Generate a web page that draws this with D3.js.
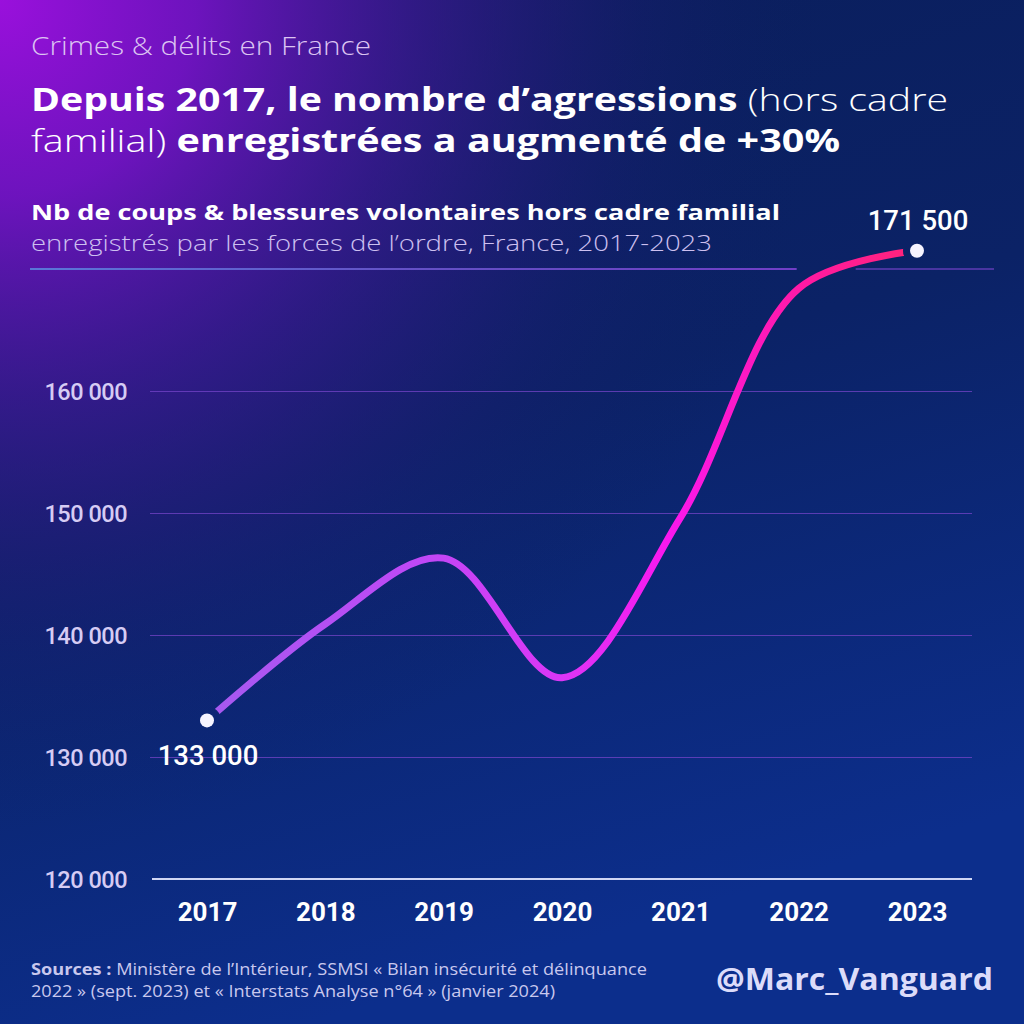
<!DOCTYPE html>
<html><head><meta charset="utf-8">
<script src="https://cdn.jsdelivr.net/npm/d3@7"></script>
<style>html,body{margin:0;padding:0;background:#0a1f5e;}svg{display:block;}</style>
</head><body>
<script>
const years = ["2017","2018","2019","2020","2021","2022","2023"];
const values = [133000, 140900, 146300, 136500, 149600, 168400, 171500];
const gridTicks = [130000, 140000, 150000, 160000];
const labelTicks = [120000, 130000, 140000, 150000, 160000];
const topTick = 170000;

const W = 1024, H = 1024;
const svg = d3.select("body").append("svg").attr("width", W).attr("height", H);
const defs = svg.append("defs");

// background
const bgLin = defs.append("linearGradient").attr("id","bgLin").attr("x1",0).attr("y1",0).attr("x2",0.3).attr("y2",1);
bgLin.append("stop").attr("offset",0).attr("stop-color","#0a1d5a");
bgLin.append("stop").attr("offset",0.5).attr("stop-color","#0b2266");
bgLin.append("stop").attr("offset",1).attr("stop-color","#0c2e8c");
const bgRad = defs.append("radialGradient").attr("id","bgRad").attr("gradientUnits","userSpaceOnUse")
  .attr("cx",0).attr("cy",0).attr("r",980);
bgRad.append("stop").attr("offset",0).attr("stop-color","#9a10dc").attr("stop-opacity",1);
bgRad.append("stop").attr("offset",0.2).attr("stop-color","#7812c8").attr("stop-opacity",0.9);
bgRad.append("stop").attr("offset",0.42).attr("stop-color","#4a16a0").attr("stop-opacity",0.6);
bgRad.append("stop").attr("offset",0.65).attr("stop-color","#2a1880").attr("stop-opacity",0.2);
bgRad.append("stop").attr("offset",0.85).attr("stop-color","#0a1d5a").attr("stop-opacity",0);
svg.append("rect").attr("width",W).attr("height",H).attr("fill","url(#bgLin)");
svg.append("rect").attr("width",W).attr("height",H).attr("fill","url(#bgRad)");

// scales
const x = d3.scalePoint().domain(years).range([207, 917]);
const y = d3.scaleLinear().domain([120000, 170000]).range([879, 269]);
const locale = d3.formatLocale({decimal:",", thousands:" ", grouping:[3], currency:["","€"]});
const fmt = locale.format(",d");

// header texts (wide geometric look: stretched to the reference widths)
const sans = "'Open Sans', Lato, sans-serif";
function wide(sel, len){ return sel.attr("textLength",len).attr("lengthAdjust","spacingAndGlyphs"); }
wide(svg.append("text").attr("x",31).attr("y",55).attr("font-family",sans).attr("font-weight",300)
  .attr("font-size",25).attr("fill","#dcc4f2").text("Crimes & délits en France"), 340);
const t1 = svg.append("text").attr("x",31).attr("y",111).attr("font-family",sans).attr("font-size",32).attr("fill","#ffffff");
t1.append("tspan").attr("font-weight",700).text("Depuis 2017, le nombre d’agressions ");
t1.append("tspan").attr("font-weight",300).text("(hors cadre");
wide(t1, 917);
const t2 = svg.append("text").attr("x",31).attr("y",152).attr("font-family",sans).attr("font-size",32).attr("fill","#ffffff");
t2.append("tspan").attr("font-weight",300).text("familial) ");
t2.append("tspan").attr("font-weight",700).text("enregistrées a augmenté de +30%");
wide(t2, 809);
wide(svg.append("text").attr("x",31).attr("y",220).attr("font-family",sans).attr("font-weight",700)
  .attr("font-size",22).attr("fill","#ffffff").text("Nb de coups & blessures volontaires hors cadre familial"), 749);
wide(svg.append("text").attr("x",31).attr("y",251).attr("font-family",sans).attr("font-weight",300)
  .attr("font-size",22).attr("fill","#cdc0f0").text("enregistrés par les forces de l’ordre, France, 2017-2023"), 681);

// line generator
const line = d3.line().x((d,i)=>x(years[i])).y(d=>y(d)).curve(d3.curveCatmullRom.alpha(0.5));

// gridlines
const grid = svg.append("g").attr("transform","translate(150,0)")
  .call(d3.axisRight(y).tickValues(gridTicks).tickSize(822).tickFormat(""));
grid.select(".domain").remove();
grid.selectAll("line").attr("stroke","#7444c8").attr("stroke-opacity",0.75).attr("stroke-width",1.2);

// top gridline (170 000), broken around the 2022 bend of the curve
const gapX = x("2022");
const topG = defs.append("linearGradient").attr("id","topG").attr("gradientUnits","userSpaceOnUse")
  .attr("x1",30).attr("y1",0).attr("x2",gapX).attr("y2",0);
topG.append("stop").attr("offset",0).attr("stop-color","#5a98e8");
topG.append("stop").attr("offset",0.5).attr("stop-color","#7a62e0");
topG.append("stop").attr("offset",1).attr("stop-color","#9448e8");
svg.append("line").attr("x1",30).attr("x2",gapX-2).attr("y1",y(topTick)).attr("y2",y(topTick))
  .attr("stroke","url(#topG)").attr("stroke-width",1.6);
svg.append("line").attr("x1",gapX+57).attr("x2",994).attr("y1",y(topTick)).attr("y2",y(topTick))
  .attr("stroke","#7444c8").attr("stroke-opacity",0.8).attr("stroke-width",1.4);

// baseline
svg.append("line").attr("x1",152).attr("x2",972).attr("y1",y(120000)).attr("y2",y(120000))
  .attr("stroke","#d0d6f4").attr("stroke-width",2);

// y labels
const yAx = svg.append("g").attr("transform","translate(136,0)")
  .call(d3.axisLeft(y).tickValues(labelTicks).tickFormat(fmt).tickSize(0).tickPadding(9));
yAx.select(".domain").remove();
yAx.selectAll("text").attr("font-family","Roboto, sans-serif").attr("font-weight",500)
  .attr("font-size",23.5).attr("fill","#d6ccf4").attr("dy","0.35em").attr("letter-spacing",-0.5);

// x labels
const xAx = svg.append("g").attr("transform",`translate(0,${y(120000)})`)
  .call(d3.axisBottom(x).tickSize(0).tickPadding(24));
xAx.select(".domain").remove();
xAx.selectAll("text").attr("font-family","Roboto, sans-serif").attr("font-weight",700)
  .attr("font-size",26).attr("fill","#ffffff");

// curve
const lg = defs.append("linearGradient").attr("id","lineG").attr("gradientUnits","userSpaceOnUse")
  .attr("x1",x("2017")).attr("y1",0).attr("x2",x("2023")).attr("y2",0);
[[0,"#a65af0"],[0.3,"#bf48f6"],[0.5,"#dc36f6"],[0.65,"#fa18ee"],[0.85,"#ff1aa0"],[1,"#ff2478"]]
  .forEach(s=>lg.append("stop").attr("offset",s[0]).attr("stop-color",s[1]));
const mask = defs.append("mask").attr("id","endMask").attr("maskUnits","userSpaceOnUse")
  .attr("x",0).attr("y",0).attr("width",W).attr("height",H);
mask.append("rect").attr("width",W).attr("height",H).attr("fill","white");
[0, values.length-1].forEach(i=>mask.append("circle").attr("cx",x(years[i])).attr("cy",y(values[i])).attr("r",14).attr("fill","black"));
svg.append("path").attr("d", line(values)).attr("fill","none").attr("stroke","url(#lineG)")
  .attr("stroke-width",7).attr("stroke-linecap","butt").attr("stroke-linejoin","round").attr("mask","url(#endMask)");

// end dots
const ends = [0, values.length-1];
svg.selectAll("circle.dot").data(ends).join("circle").attr("class","dot")
  .attr("cx",i=>x(years[i])).attr("cy",i=>y(values[i])).attr("r",7).attr("fill","#f6f4ff");

// value labels
svg.append("text").attr("x",x(years[0])+1).attr("y",y(values[0])+45).attr("text-anchor","middle")
  .attr("font-family","Roboto, sans-serif").attr("font-weight",500).attr("font-size",27.5).attr("fill","#ffffff")
  .text(fmt(values[0]));
svg.append("text").attr("x",x(years[6])+1).attr("y",y(values[6])-21).attr("text-anchor","middle")
  .attr("font-family","Roboto, sans-serif").attr("font-weight",500).attr("font-size",27.5).attr("fill","#ffffff")
  .text(fmt(values[6]));

// footer
const s1 = svg.append("text").attr("x",31).attr("y",975).attr("font-family",sans).attr("font-size",16.5).attr("fill","#c9c8ee");
s1.append("tspan").attr("font-weight",700).text("Sources : ");
s1.append("tspan").attr("font-weight",400).text("Ministère de l’Intérieur, SSMSI « Bilan insécurité et délinquance");
wide(s1, 616);
wide(svg.append("text").attr("x",31).attr("y",997).attr("font-family",sans).attr("font-size",16.5).attr("fill","#c9c8ee")
  .text("2022 » (sept. 2023) et « Interstats Analyse n°64 » (janvier 2024)"), 524);
wide(svg.append("text").attr("x",716).attr("y",990).attr("font-family",sans)
  .attr("font-weight",700).attr("font-size",31).attr("fill","#dcdcfa").text("@Marc_Vanguard"), 277);
</script>
</body></html>
